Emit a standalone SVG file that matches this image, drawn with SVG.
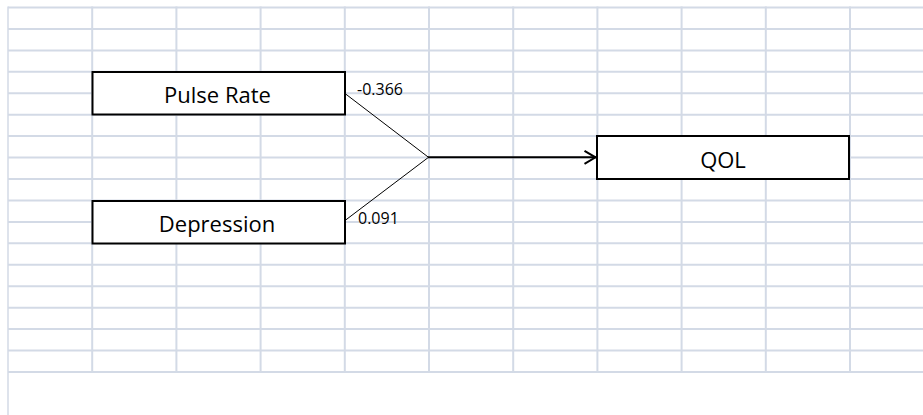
<svg xmlns="http://www.w3.org/2000/svg" width="923" height="415" viewBox="0 0 923 415">
<style>
.grid line{stroke:#d3dae6;stroke-width:2}
.box rect{fill:#fff;stroke:#000;stroke-width:2}
.lbl{font-family:"Open Sans","Liberation Sans",sans-serif;font-size:22px;fill:#000;text-anchor:middle}
.coef{font-family:"Open Sans","Liberation Sans",sans-serif;font-size:16px;fill:#000}
</style>
<defs>
<marker id="arr" viewBox="0 0 14 16" refX="13" refY="8" markerWidth="14" markerHeight="16" markerUnits="userSpaceOnUse" orient="auto">
<path d="M1.5,1.5 L12.5,8 L1.5,14.5" fill="none" stroke="#000" stroke-width="2"/>
</marker>
</defs>
<rect width="923" height="415" fill="#fff"/>
<g class="grid">
<line x1="8" y1="7.5" x2="923" y2="7.5"/>
<line x1="8" y1="28.9" x2="923" y2="28.9"/>
<line x1="8" y1="50.4" x2="923" y2="50.4"/>
<line x1="8" y1="71.8" x2="923" y2="71.8"/>
<line x1="8" y1="93.3" x2="923" y2="93.3"/>
<line x1="8" y1="114.7" x2="923" y2="114.7"/>
<line x1="8" y1="136.1" x2="923" y2="136.1"/>
<line x1="8" y1="157.6" x2="923" y2="157.6"/>
<line x1="8" y1="179" x2="923" y2="179"/>
<line x1="8" y1="200.5" x2="923" y2="200.5"/>
<line x1="8" y1="221.9" x2="923" y2="221.9"/>
<line x1="8" y1="243.3" x2="923" y2="243.3"/>
<line x1="8" y1="264.8" x2="923" y2="264.8"/>
<line x1="8" y1="286.2" x2="923" y2="286.2"/>
<line x1="8" y1="307.7" x2="923" y2="307.7"/>
<line x1="8" y1="329.1" x2="923" y2="329.1"/>
<line x1="8" y1="350.5" x2="923" y2="350.5"/>
<line x1="8" y1="372" x2="923" y2="372"/>
<line x1="8" y1="6.5" x2="8" y2="415" style="stroke-width:1.5"/>
<line x1="92.2" y1="6.5" x2="92.2" y2="373"/>
<line x1="176.4" y1="6.5" x2="176.4" y2="373"/>
<line x1="260.6" y1="6.5" x2="260.6" y2="373"/>
<line x1="344.8" y1="6.5" x2="344.8" y2="373"/>
<line x1="429" y1="6.5" x2="429" y2="373"/>
<line x1="513.2" y1="6.5" x2="513.2" y2="373"/>
<line x1="597.4" y1="6.5" x2="597.4" y2="373"/>
<line x1="681.6" y1="6.5" x2="681.6" y2="373"/>
<line x1="765.8" y1="6.5" x2="765.8" y2="373"/>
<line x1="850" y1="6.5" x2="850" y2="373"/>
</g>
<g id="pulse-rate" class="box">
<rect x="92.5" y="72" width="252.5" height="42.5"/>
<text class="lbl" x="217.5" y="103">Pulse Rate</text>
</g>
<g id="depression" class="box">
<rect x="92.5" y="201" width="252.5" height="42.5"/>
<text class="lbl" x="217" y="232">Depression</text>
</g>
<g id="qol" class="box">
<rect x="597" y="136" width="252" height="43"/>
<text class="lbl" x="723" y="168">QOL</text>
</g>
<g id="connectors">
<line x1="345" y1="93.5" x2="428.5" y2="157.3" stroke="#000" stroke-width="1"/>
<line x1="345" y1="220.5" x2="428.5" y2="157.3" stroke="#000" stroke-width="1"/>
<line x1="428" y1="157.3" x2="596" y2="157.3" stroke="#000" stroke-width="2" marker-end="url(#arr)"/>
<text class="coef" x="357" y="95">-0.366</text>
<text class="coef" x="358" y="224">0.091</text>
</g>
</svg>
